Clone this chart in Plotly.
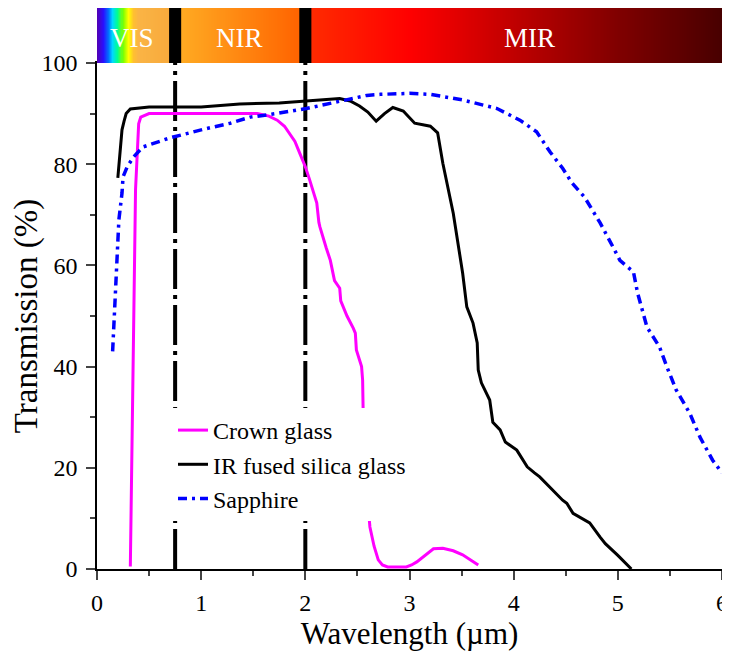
import numpy as np
import plotly.graph_objects as go

# ---------------- data ----------------
crown_x = [0.32, 0.345, 0.357, 0.37, 0.40, 0.42, 0.50, 1.00, 1.54, 1.65, 1.73, 1.80, 1.85, 1.90,
           1.95, 2.00, 2.04, 2.08, 2.11, 2.13, 2.14, 2.20, 2.24, 2.28, 2.31, 2.33, 2.34, 2.40,
           2.46, 2.48, 2.49, 2.52, 2.54, 2.55, 2.555, 2.56, 2.58, 2.60, 2.62, 2.66, 2.70, 2.74,
           2.79, 2.97, 3.02, 3.07, 3.12, 3.16, 3.23, 3.32, 3.42, 3.51, 3.58, 3.66]
crown_y = [0.5, 40, 61, 75, 88, 89.3, 90, 90, 90, 89.5, 88.7, 87.5, 86, 84.5,
           82, 79.5, 77, 74.5, 72.3, 68.5, 67.6, 63.5, 61, 57, 56, 55.5, 53, 50,
           47.6, 46.6, 43.3, 41.5, 40, 37.3, 31, 25, 18, 12.3, 8.3, 4.5, 1.8, 0.8,
           0.4, 0.4, 0.8, 1.4, 2.2, 2.8, 4.0, 4.1, 3.6, 2.8, 1.8, 0.8]

silica_x = [0.20, 0.22, 0.24, 0.26, 0.28, 0.32, 0.50, 1.00, 1.37, 1.75, 2.01, 2.33, 2.43, 2.52,
            2.60, 2.68, 2.76, 2.84, 2.94, 3.05, 3.20, 3.27, 3.32, 3.42, 3.51, 3.55, 3.61, 3.65,
            3.66, 3.69, 3.77, 3.80, 3.87, 3.92, 4.03, 4.13, 4.20, 4.25, 4.47, 4.51, 4.57, 4.73,
            4.83, 4.88, 5.00, 5.13]
silica_y = [77.3, 83, 86.8, 88.5, 90, 90.9, 91.3, 91.3, 91.9, 92.1, 92.5, 93, 92.5, 91.5,
            90.3, 88.5, 90, 91.2, 90.5, 88.1, 87.5, 86.2, 80.2, 70.3, 58.5, 51.8, 48.6, 44.7,
            39.3, 36.8, 33.4, 29, 27.5, 25.1, 23.5, 20.2, 19, 18.2, 13.6, 13, 11, 9.1,
            6.3, 5, 2.7, 0]

sapph_x = [0.15, 0.17, 0.19, 0.21, 0.24, 0.25, 0.29, 0.35, 0.44, 0.70, 1.02, 1.28, 1.47, 1.72,
           2.01, 2.33, 2.59, 2.72, 3.00, 3.20, 3.51, 3.84, 4.06, 4.22, 4.35, 4.47, 4.56, 4.68,
           4.83, 4.97, 5.02, 5.15, 5.19, 5.28, 5.40, 5.47, 5.56, 5.69, 5.79, 5.91, 6.00]
sapph_y = [43, 52, 63, 69, 74.3, 77.5, 79.5, 81.4, 83.4, 85.2, 86.9, 88.1, 89.3, 90,
           91, 92.4, 93.6, 93.8, 94, 93.8, 92.7, 91, 88.7, 86.4, 82.4, 79.2, 76.3, 73.5,
           68.4, 63, 61, 58.7, 54.5, 47.8, 43.9, 40, 35.4, 30.8, 26, 21.5, 19]

band_edges = [0.75, 2.0]                 # VIS/NIR and NIR/MIR boundaries (µm)
band_labels = ["VIS", "NIR", "MIR"]
band_label_x = [0.34, 1.37, 4.15]

# spectrum colour stops (wavelength in µm, colour)
spec_stops = [(0.00, "#5000b8"), (0.06, "#2a10ff"), (0.11, "#0070ff"), (0.15, "#00d8ff"),
              (0.20, "#00ff90"), (0.25, "#80ff00"), (0.30, "#ffff00"), (0.35, "#ffc030"),
              (0.40, "#fab445"), (0.69, "#f8aa3c"), (0.81, "#ffaa22"), (1.94, "#ff6400"),
              (2.06, "#ff2a00"), (3.00, "#ff0000"), (4.00, "#c00000"), (5.00, "#800000"),
              (6.00, "#480000")]

FONT = "Liberation Serif"
XMAX = 6.0

fig = go.Figure()

# spectrum band (heatmap on upper axis)
bx = np.linspace(0, XMAX, 601)
fig.add_trace(go.Heatmap(
    x=bx, y=[0], z=[bx], zmin=0, zmax=XMAX,
    colorscale=[[w / XMAX, c] for w, c in spec_stops],
    showscale=False, hoverinfo="skip", xaxis="x", yaxis="y2"))

# boundary dash-dot lines
for e in band_edges:
    fig.add_trace(go.Scatter(x=[e, e], y=[0, 100], mode="lines", showlegend=False,
                             line=dict(color="black", width=4, dash="40px,6px,4px,6px"),
                             hoverinfo="skip"))

fig.add_trace(go.Scatter(x=crown_x, y=crown_y, mode="lines", name="Crown glass",
                         line=dict(color="#ff00ff", width=3)))
fig.add_trace(go.Scatter(x=silica_x, y=silica_y, mode="lines", name="IR fused silica glass",
                         line=dict(color="black", width=3)))
fig.add_trace(go.Scatter(x=sapph_x, y=sapph_y, mode="lines", name="Sapphire",
                         line=dict(color="#0000ff", width=3.5, dash="9px,5px,3px,5px")))

shapes = []
for e in band_edges:
    shapes.append(dict(type="rect", xref="x", yref="y2 domain", x0=e - 0.058, x1=e + 0.058,
                       y0=0, y1=1, fillcolor="black", line=dict(width=0)))

annotations = [dict(text=t, x=xv, y=0.45, xref="x", yref="y2 domain", showarrow=False,
                    font=dict(family=FONT, size=27, color="white"), yanchor="middle")
               for t, xv in zip(band_labels, band_label_x)]

ydom_top = 506 / 561

fig.update_layout(
    width=730, height=652,
    margin=dict(l=89, r=16, t=0, b=91, autoexpand=False),
    paper_bgcolor="white", plot_bgcolor="white",
    font=dict(family=FONT, size=24, color="black"),
    shapes=shapes, annotations=annotations,
    showlegend=True,
    legend=dict(x=0.1216, y=0.287, xanchor="left", yanchor="top", bgcolor="white",
                borderwidth=0, font=dict(family=FONT, size=24), traceorder="normal"),
    xaxis=dict(range=[0, XMAX], dtick=1, ticks="outside", ticklen=9, tickwidth=1.5,
               showline=True, linecolor="black", linewidth=1.5, mirror=True,
               showgrid=False, zeroline=False, anchor="y", automargin=False,
               ticklabeloverflow="allow", ticklabelstandoff=2,
               minor=dict(dtick=0.5, ticks="outside", ticklen=5, tickwidth=1.5),
               title=dict(text="Wavelength (µm)", font=dict(size=31), standoff=2),
               tickfont=dict(size=24)),
    yaxis=dict(range=[0, 100], dtick=20, ticks="outside", ticklen=9, tickwidth=1.5,
               domain=[0, ydom_top], automargin=False, ticklabelstandoff=4,
               ticklabeloverflow="allow",
               showline=True, linecolor="black", linewidth=1.5, mirror=True,
               showgrid=False, zeroline=False,
               minor=dict(dtick=10, ticks="outside", ticklen=5, tickwidth=1.5),
               title=dict(text="Transmission (%)", font=dict(size=33), standoff=6),
               tickfont=dict(size=24)),
    yaxis2=dict(domain=[ydom_top, 1], range=[-0.5, 0.5], showticklabels=False,
                showgrid=False, zeroline=False, ticks="", anchor="x", automargin=False),
)

fig.write_html("out.html")
